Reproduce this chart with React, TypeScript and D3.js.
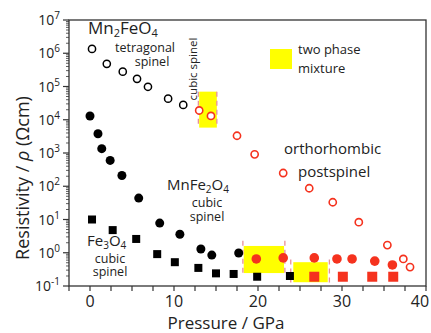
import React from "react";
import * as d3 from "d3";

// Mn2FeO4 (open circles): black = tetragonal spinel, red = orthorhombic postspinel
const mn2Black: [number, number][] = [
  [0.24, 1.35e6], [2.0, 4.8e5], [3.9, 2.8e5], [5.6, 1.7e5], [6.9, 9.8e4], [9.3, 4.3e4], [11.1, 2.8e4],
];
const mn2Red: [number, number][] = [
  [13.0, 1.9e4], [14.4, 1.3e4], [17.5, 3.3e3], [19.6, 9.1e2], [23.0, 2.5e2], [26.1, 87], [28.9, 33],
  [32.0, 8.3], [35.4, 1.7], [37.3, 0.65], [38.1, 0.37],
];
// MnFe2O4 (filled circles)
const mnFeBlack: [number, number][] = [
  [0.0, 1.3e4], [0.95, 3.8e3], [1.4, 1.35e3], [2.4, 6e2], [3.8, 2.1e2], [5.8, 44], [8.3, 7.8],
  [10.7, 3.6], [13.2, 1.3], [14.5, 0.85], [17.7, 0.98],
];
const mnFeRed: [number, number][] = [
  [19.8, 0.65], [23.0, 0.7], [26.7, 0.7], [29.4, 0.65], [31.2, 0.65], [33.9, 0.56], [36.0, 0.43],
];
// Fe3O4 (filled squares)
const fe3Black: [number, number][] = [
  [0.24, 10], [2.7, 4.8], [5.5, 2.6], [8.0, 0.91], [10.1, 0.52], [12.9, 0.35], [15.0, 0.24],
  [17.1, 0.23], [19.9, 0.19], [23.8, 0.2],
];
const fe3Red: [number, number][] = [[26.7, 0.19], [30.1, 0.19], [33.6, 0.19], [36.1, 0.19]];

// two phase mixture regions: [p0, p1, rhoLow, rhoHigh] and dashed borders
const mixBoxes: [number, number, number, number][] = [
  [13.0, 15.1, 5.8e3, 7e4], [18.3, 23.1, 0.245, 1.6], [24.2, 28.3, 0.13, 0.52],
];
const mixLines: [number, number, number, number][] = [
  [12.9, 15.1, 5.8e3, 7e4], [18.2, 23.2, 0.22, 2.3], [23.9, 28.5, 0.1, 0.63],
];

const xTicks = d3.range(-2.5, 40.01, 2.5);
const xLabels = [0, 10, 20, 30, 40];
const yExps = [-1, 0, 1, 2, 3, 4, 5, 6, 7];

const W = 431, H = 333;
const left = 69, right = 426, top = 20, bottom = 286;
const RED = "#f5321e";
const FONT = "'Open Sans', 'Noto Sans', sans-serif";

export default function App() {
  const x = d3.scaleLinear().domain([-2.5, 40]).range([left, right]);
  const y = d3.scaleLog().domain([0.1, 1e7]).range([bottom, top]);

  const minorY: number[] = [];
  for (let e = -1; e < 7; e++) for (let m = 2; m <= 9; m++) minorY.push(m * Math.pow(10, e));

  return (
    <div style={{ position: "fixed", left: 0, top: 0 }}>
      <svg width={W} height={H} fontFamily={FONT} style={{ display: "block", background: "#fff" }}>
        {/* two phase boxes */}
        {mixBoxes.map((b, i) => (
          <rect key={"b" + i} x={x(b[0])} y={y(b[3])} width={x(b[1]) - x(b[0])} height={y(b[2]) - y(b[3])} fill="#ffff00" />
        ))}
        {mixLines.map((b, i) => (
          <g key={"l" + i} stroke="#e8909a" strokeWidth={1.3} strokeDasharray="5,4">
            <line x1={x(b[0])} x2={x(b[0])} y1={y(b[3])} y2={Math.min(bottom, y(b[2]))} />
            <line x1={x(b[1])} x2={x(b[1])} y1={y(b[3])} y2={Math.min(bottom, y(b[2]))} />
          </g>
        ))}

        {/* frame */}
        <rect x={left} y={top} width={right - left} height={bottom - top} fill="none" stroke="#333" strokeWidth={1.3} />

        {/* x ticks */}
        {xTicks.map((t) => (
          <line key={"xt" + t} x1={x(t)} x2={x(t)} y1={bottom} y2={bottom + 5} stroke="#333" strokeWidth={1.2} />
        ))}
        {xLabels.map((t) => (
          <text key={"xl" + t} x={t === 40 ? x(t) - 6 : x(t)} y={307} textAnchor="middle" fontSize={16} fill="#222">{t}</text>
        ))}

        {/* y ticks */}
        {yExps.map((e) => (
          <line key={"yt" + e} x1={left - 6} x2={left} y1={y(Math.pow(10, e))} y2={y(Math.pow(10, e))} stroke="#333" strokeWidth={1.2} />
        ))}
        {minorY.map((v, i) => (
          <line key={"ym" + i} x1={left - 3} x2={left} y1={y(v)} y2={y(v)} stroke="#333" strokeWidth={0.8} />
        ))}
        {yExps.map((e) => (
          <text key={"yl" + e} x={left - 9} y={y(Math.pow(10, e)) + 5} textAnchor="end" fontSize={14} fill="#222">
            10<tspan fontSize={10} dy={-6}>{e}</tspan>
          </text>
        ))}

        {/* axis titles */}
        <text transform="translate(29,178) rotate(-90)" textAnchor="middle" fontSize={18} fill="#222">
          Resistivity / <tspan fontStyle="italic">ρ</tspan> (Ωcm)
        </text>
        <text x={226} y={329} textAnchor="middle" fontSize={17} fill="#222">Pressure / GPa</text>

        {/* Fe3O4 squares */}
        {fe3Black.map((d, i) => (
          <rect key={"fb" + i} x={x(d[0]) - 4} y={y(d[1]) - 4} width={8} height={8} fill="#000" />
        ))}
        {fe3Red.map((d, i) => (
          <rect key={"fr" + i} x={x(d[0]) - 5} y={y(d[1]) - 5} width={10} height={10} fill={RED} />
        ))}

        {/* MnFe2O4 filled circles */}
        {mnFeBlack.map((d, i) => (
          <circle key={"mb" + i} cx={x(d[0])} cy={y(d[1])} r={4.5} fill="#000" />
        ))}
        {mnFeRed.map((d, i) => (
          <circle key={"mr" + i} cx={x(d[0])} cy={y(d[1])} r={4.8} fill={RED} />
        ))}

        {/* Mn2FeO4 open circles */}
        {mn2Black.map((d, i) => (
          <circle key={"ob" + i} cx={x(d[0])} cy={y(d[1])} r={3.6} fill="#fff" stroke="#000" strokeWidth={1.5} />
        ))}
        {mn2Red.map((d, i) => (
          <circle key={"or" + i} cx={x(d[0])} cy={y(d[1])} r={3.6} fill="#fff" stroke={RED} strokeWidth={1.6} />
        ))}

        {/* annotations */}
        <text x={88} y={34} fontSize={17} fill="#222">
          Mn<tspan fontSize={11} dy={3}>2</tspan><tspan dy={-3}>FeO</tspan><tspan fontSize={11} dy={3}>4</tspan>
        </text>
        <text x={145} y={52} textAnchor="middle" fontSize={12.5} fill="#222">tetragonal</text>
        <text x={152} y={66} textAnchor="middle" fontSize={12.5} fill="#222">spinel</text>
        <text transform="translate(197,69) rotate(-90)" textAnchor="middle" fontSize={11.5} fill="#222">cubic spinel</text>

        <rect x={270} y={49} width={22} height={20} fill="#ffff00" />
        <text x={298} y={54} fontSize={13} fill="#222">two phase</text>
        <text x={298} y={73} fontSize={13} fill="#222">mixture</text>

        <text x={284} y={154} fontSize={15} fill="#222">orthorhombic</text>
        <text x={298} y={177} fontSize={15} fill="#222">postspinel</text>

        <text x={167} y={190} fontSize={15} fill="#222">
          MnFe<tspan fontSize={10} dy={3}>2</tspan><tspan dy={-3}>O</tspan><tspan fontSize={10} dy={3}>4</tspan>
        </text>
        <text x={207} y={207} textAnchor="middle" fontSize={12.5} fill="#222">cubic</text>
        <text x={207} y={221} textAnchor="middle" fontSize={12.5} fill="#222">spinel</text>

        <text x={87} y={246} fontSize={15} fill="#222">
          Fe<tspan fontSize={10} dy={3}>3</tspan><tspan dy={-3}>O</tspan><tspan fontSize={10} dy={3}>4</tspan>
        </text>
        <text x={110} y={263} textAnchor="middle" fontSize={12.5} fill="#222">cubic</text>
        <text x={110} y={276} textAnchor="middle" fontSize={12.5} fill="#222">spinel</text>
      </svg>
    </div>
  );
}
